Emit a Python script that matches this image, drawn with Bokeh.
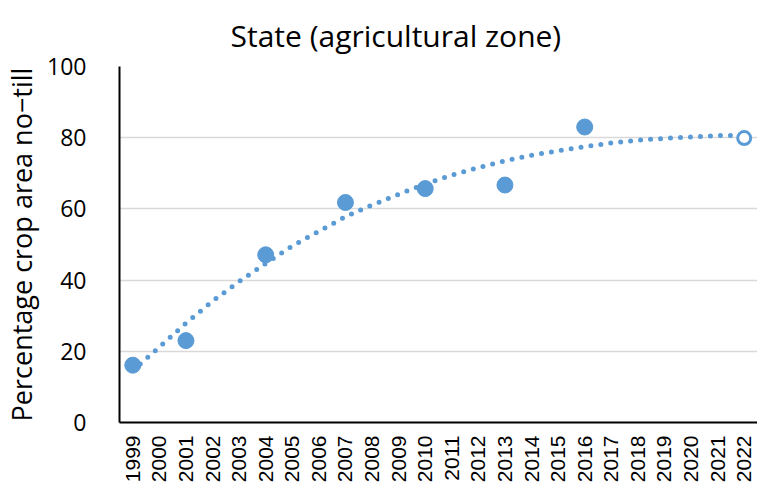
from bokeh.plotting import figure
from bokeh.models import FactorRange, Range1d, FixedTicker, ColumnDataSource
from bokeh.embed import file_html
from bokeh.resources import INLINE
import math

# ---- data ----
years = ["1999", "2000", "2001", "2002", "2003", "2004", "2005", "2006",
         "2007", "2008", "2009", "2010", "2011", "2012", "2013", "2014",
         "2015", "2016", "2017", "2018", "2019", "2020", "2021", "2022"]
observed_years = ["1999", "2001", "2004", "2007", "2010", "2013", "2016"]
observed_pct = [16.1, 23.0, 47.1, 61.8, 65.7, 66.7, 83.0]
target_years = ["2022"]
target_pct = [79.9]
trend_pct = [14.6, 21.2, 27.9, 34.1, 39.6, 44.7, 49.6, 53.7, 57.8, 61.1,
             64.1, 67.0, 69.5, 71.6, 73.5, 75.1, 76.3, 77.5, 78.5, 79.3,
             79.8, 80.2, 80.6, 80.7]
y_ticks = [0, 20, 40, 60, 80, 100]
title_text = "State (agricultural zone)"

BLUE = "#5B9BD5"

p = figure(width=757, height=485, output_backend="svg", toolbar_location=None,
           x_range=FactorRange(*years, range_padding=0), y_range=Range1d(0, 100),
           min_border_left=109, min_border_right=0, min_border_top=66,
           min_border_bottom=54)

p.title.text = title_text
p.title.text_font = "Open Sans"
p.title.text_font_size = "30px"
p.title.text_font_style = "normal"
p.title.text_color = "#000000"
p.title.align = "left"
p.title.offset = 111
p.title.vertical_align = "bottom"
p.title.standoff = 22
p.outline_line_color = None
p.background_fill_color = "white"
p.border_fill_color = "white"

trend_src = ColumnDataSource(dict(x=years, y=trend_pct))
p.line("x", "y", source=trend_src, line_color=BLUE, line_width=5,
       line_dash="0 10", line_cap="round")

obs_src = ColumnDataSource(dict(x=observed_years, y=observed_pct))
p.scatter("x", "y", source=obs_src, size=16, fill_color=BLUE, line_color=BLUE)

tgt_src = ColumnDataSource(dict(x=target_years, y=target_pct))
p.scatter("x", "y", source=tgt_src, size=13, fill_color="white",
          line_color=BLUE, line_width=3)

# axes
p.xaxis.major_label_orientation = math.pi / 2
p.xaxis.major_label_text_font = "Liberation Sans"
p.xaxis.major_label_text_font_size = "21px"
p.xaxis.major_label_text_color = "#000000"
p.xaxis.major_tick_line_color = None
p.xaxis.minor_tick_line_color = None
p.xaxis.major_label_standoff = 7
p.xaxis.axis_line_color = "#000000"
p.xaxis.axis_line_width = 2

p.yaxis.ticker = FixedTicker(ticks=y_ticks)
p.yaxis.major_label_text_font = "Open Sans"
p.yaxis.major_label_text_font_size = "23px"
p.yaxis.major_label_text_color = "#000000"
p.yaxis.major_tick_line_color = None
p.yaxis.minor_tick_line_color = None
p.yaxis.major_label_standoff = 27
p.yaxis.axis_line_color = "#000000"
p.yaxis.axis_line_width = 2
p.yaxis.axis_label = "Percentage crop area no\u2212till"
p.yaxis.axis_label_text_font = "Open Sans"
p.yaxis.axis_label_text_font_size = "27px"
p.yaxis.axis_label_text_font_style = "normal"
p.yaxis.axis_label_text_color = "#000000"
p.yaxis.axis_label_standoff = 4

p.xgrid.grid_line_color = None
p.ygrid.ticker = FixedTicker(ticks=y_ticks)
p.ygrid.grid_line_color = "#d9d9d9"
p.ygrid.grid_line_width = 1.5

open("out.html", "w").write(file_html(p, INLINE))
